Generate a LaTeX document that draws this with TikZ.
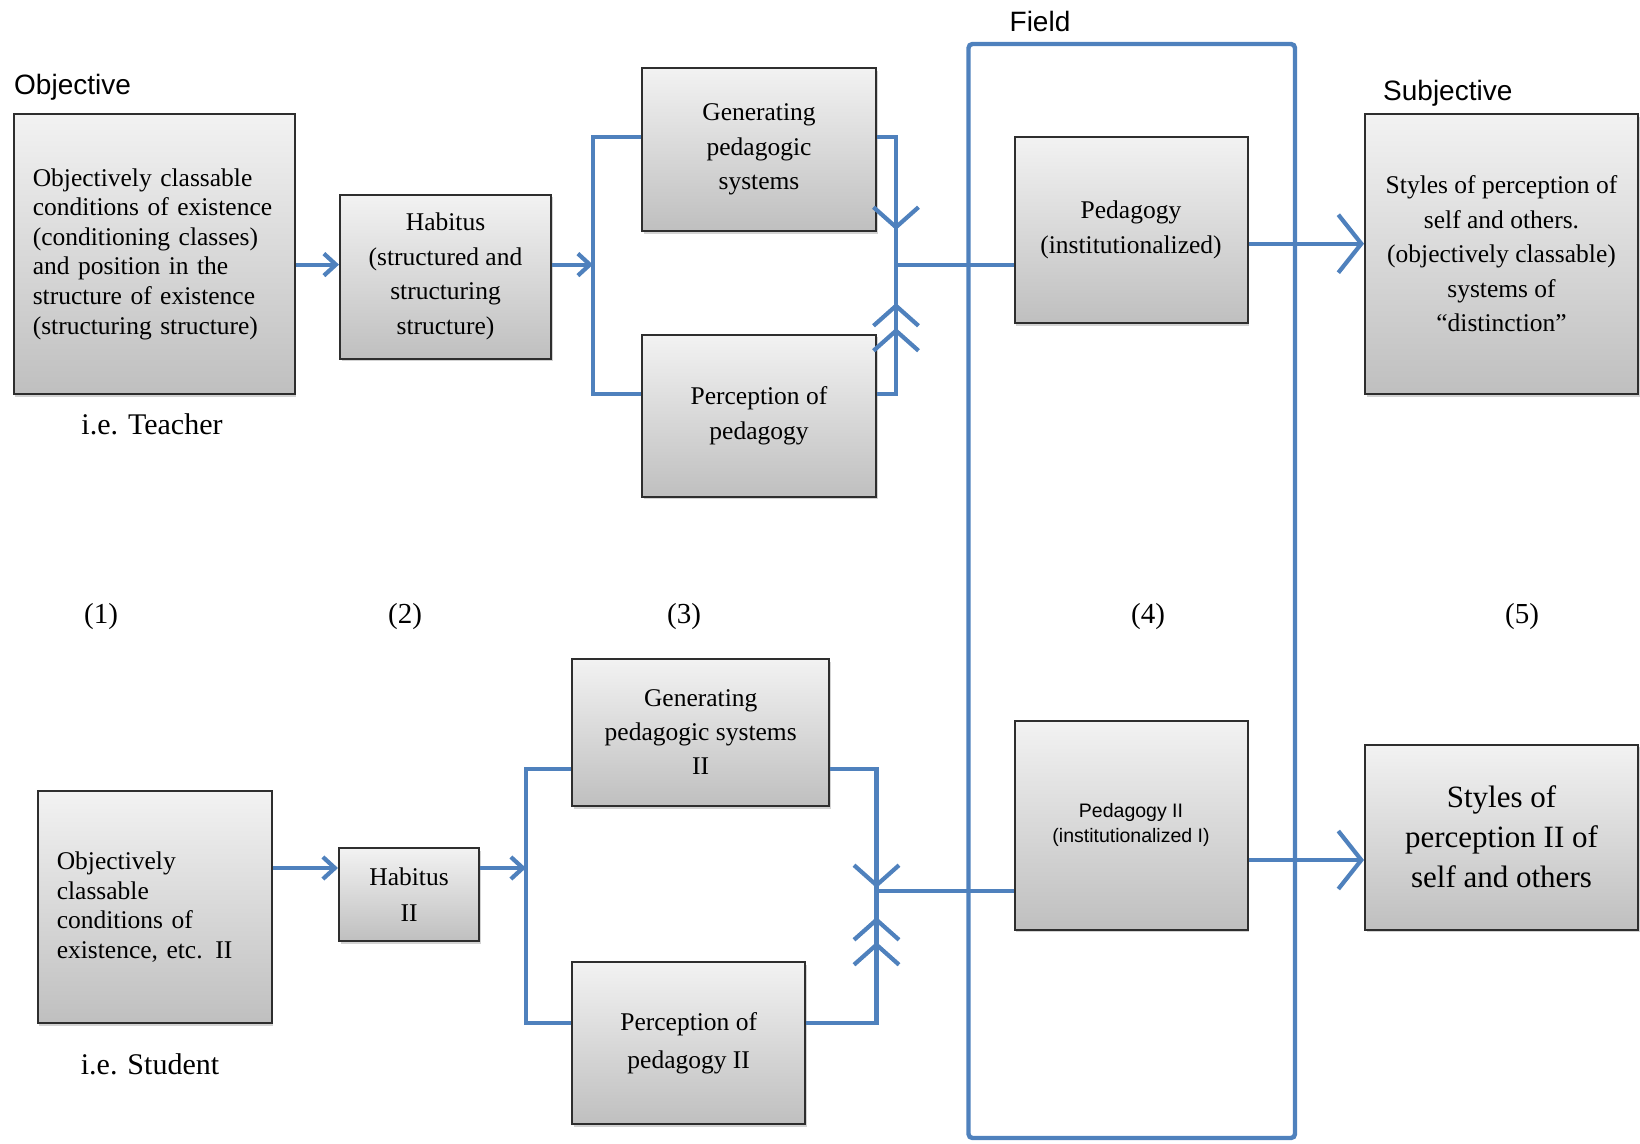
\documentclass[tikz,border=0pt]{standalone}
\usepackage{fontspec}
\setmainfont{Liberation Serif}
\newfontfamily\lsans{Liberation Sans}
\usetikzlibrary{arrows.meta,shadows}
\definecolor{cline}{RGB}{79,129,189}
\tikzset{
  box/.style={draw=black!82, line width=2pt, top color=black!5, bottom color=black!25,
    drop shadow={shadow xshift=1.5pt, shadow yshift=-2.5pt, opacity=0.35},
    align=center, inner sep=0pt, font=\fontsize{25.5}{34.5}\selectfont},
  leftbox/.style={box, align=left, inner xsep=19pt, font=\fontsize{25.5}{29.6}\selectfont},
  conn/.style={draw=cline, line width=4.2pt},
  smallarr/.style={conn, -{Straight Barb[length=12pt,width=22pt]}},
  midarr/.style={conn, -{Straight Barb[length=20pt,width=45pt]}},
  dblarr/.style={conn, -{Straight Barb[length=20pt,width=45pt]Straight Barb[length=20pt,width=45pt]}},
  bigarr/.style={conn, -{Straight Barb[length=23pt,width=58pt]}},
  fieldbox/.style={draw=cline, line width=4.4pt, rounded corners=4pt, inner sep=0pt},
  sanslabel/.style={font=\lsans\fontsize{28}{32}\selectfont, inner sep=0pt},
  seriflabel/.style={font=\fontsize{30}{34}\selectfont, inner sep=0pt},
  numlabel/.style={font=\fontsize{29}{32}\selectfont, inner sep=0pt}
}
\begin{document}
\begin{tikzpicture}[x=1pt,y=-1pt]
\useasboundingbox (0,0) rectangle (1640,1143);

% field frame
\node[fieldbox, minimum width=326.5pt, minimum height=1094pt] (field) at (1131.75,591) {};
\node[sanslabel] (fieldlbl) at (1040,21) {Field};

% labels
\node[sanslabel, anchor=west] (objlbl) at (14,87) {Objective};
\node[sanslabel, anchor=west] (subjlbl) at (1383,93) {Subjective};
\node[seriflabel] (teacher) at (152,424) {i.e. Teacher};
\node[seriflabel] (student) at (150,1064) {i.e. Student};
\node[numlabel] (n1) at (101,617) {(1)};
\node[numlabel] (n2) at (405,617) {(2)};
\node[numlabel] (n3) at (684,617) {(3)};
\node[numlabel] (n4) at (1148,617) {(4)};
\node[numlabel] (n5) at (1522,617) {(5)};

% top row boxes
\node[leftbox, text width=243pt, minimum height=280pt] (box1) at (154.3,254)
  {Objectively classable\\conditions of existence\\(conditioning classes)\\and position in the\\structure of existence\\(structuring structure)};
\node[box, minimum width=211pt, minimum height=164pt] (hab) at (445.5,276.6)
  {Habitus\\(structured and\\structuring\\structure)};
\node[box, minimum width=234pt, minimum height=163pt] (gen) at (759,149.5)
  {Generating\\pedagogic\\systems};
\node[box, minimum width=234pt, minimum height=162pt] (perc) at (759,415.7)
  {Perception of\\pedagogy};
\node[box, minimum width=233pt, minimum height=186pt] (ped) at (1131,230)
  {Pedagogy\\(institutionalized)};
\node[box, minimum width=273pt, minimum height=280pt] (styles) at (1501.5,254)
  {Styles of perception of\\self and others.\\(objectively classable)\\systems of\\``distinction''};

% bottom row boxes
\node[leftbox, text width=196pt, minimum height=232pt] (box1b) at (154.8,907)
  {Objectively\\classable\\conditions of\\existence, etc. II};
\node[box, minimum width=140pt, minimum height=93pt, font=\fontsize{25.5}{36.6}\selectfont] (hab2) at (409,894.5)
  {Habitus\\II};
\node[box, minimum width=257pt, minimum height=147pt, font=\fontsize{25.5}{34}\selectfont] (gen2) at (700.7,732.5)
  {Generating\\pedagogic systems\\II};
\node[box, minimum width=233pt, minimum height=162pt, font=\fontsize{25.5}{37.6}\selectfont] (perc2) at (688.7,1043)
  {Perception of\\pedagogy II};
\node[box, minimum width=233pt, minimum height=209pt, font=\lsans\fontsize{19.5}{25}\selectfont] (ped2) at (1131,825)
  {Pedagogy II\\(institutionalized I)};
\node[box, minimum width=273pt, minimum height=185pt, font=\fontsize{31}{40}\selectfont] (styles2) at (1501.5,837)
  {Styles of\\perception II of\\self and others};

% top connectors
\coordinate (ja) at (593,264.6);
\coordinate (g1) at (593,137);
\coordinate (p1) at (593,394.3);
\coordinate (jb) at (896,264.6);
\coordinate (g2) at (896,137);
\coordinate (p2) at (896,394.3);
\coordinate (ah1) at (896,230);
\coordinate (ah2) at (896,303);
\coordinate (ps) at (1300,243.7);

\draw[smallarr] (box1.east |- ja) -- (hab.west |- ja);
\draw[smallarr] (hab.east |- ja) -- (ja);
\draw[conn] (gen.west |- g1) -- (g1) -- (p1) -- (perc.west |- p1);
\draw[conn] (gen.east |- g2) -- (g2) -- (jb);
\draw[conn] (perc.east |- p2) -- (p2) -- (jb);
\draw[midarr] (g2) -- (ah1);
\draw[dblarr] (p2) -- (ah2);
\draw[conn] (jb) -- (ped.west |- jb);
\draw[bigarr] (ped.east |- ps) -- (styles.west |- ps);

% bottom connectors
\coordinate (jc) at (526,868);
\coordinate (g3) at (526,769);
\coordinate (p3) at (526,1023);
\coordinate (jd) at (876.5,891);
\coordinate (g4) at (876.5,769);
\coordinate (p4) at (876.5,1023);
\coordinate (ah3) at (876.5,888);
\coordinate (ah4) at (876.5,917);
\coordinate (ps2) at (1300,860);

\draw[smallarr] (box1b.east |- jc) -- (hab2.west |- jc);
\draw[smallarr] (hab2.east |- jc) -- (jc);
\draw[conn] (gen2.west |- g3) -- (g3) -- (p3) -- (perc2.west |- p3);
\draw[conn] (gen2.east |- g4) -- (g4) -- (jd);
\draw[conn] (perc2.east |- p4) -- (p4) -- (jd);
\draw[midarr] (g4) -- (ah3);
\draw[dblarr] (p4) -- (ah4);
\draw[conn] (jd) -- (ped2.west |- jd);
\draw[bigarr] (ped2.east |- ps2) -- (styles2.west |- ps2);
\end{tikzpicture}
\end{document}
